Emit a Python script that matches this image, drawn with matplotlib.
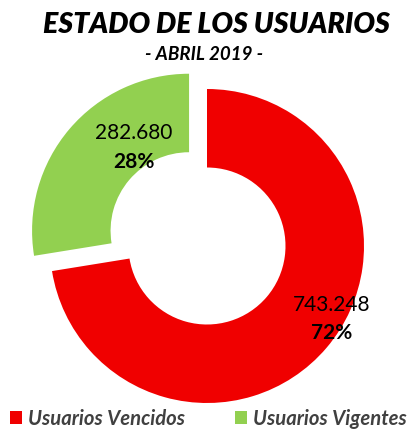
import matplotlib
matplotlib.use("Agg")
import matplotlib.pyplot as plt

plt.rcParams['font.family'] = ['Lato', 'DejaVu Sans']

labels = ['Usuarios Vencidos', 'Usuarios Vigentes']
values = [743248, 282680]
value_text = ['743.248', '282.680']
colors = ['#F00000', '#92D050']

W, H = 410, 430
cx, cy, R = 207, 246, 157

fig = plt.figure(figsize=(W / 100, H / 100), dpi=100)
ax = fig.add_axes([0, 0, 1, 1])
ax.axis('off')

wedges, _ = ax.pie(values, colors=colors, startangle=90, counterclock=False,
                   explode=(0, 0.15), radius=1,
                   wedgeprops=dict(width=0.5, linewidth=0))
ax.set_xlim(-cx / R, (W - cx) / R)
ax.set_ylim(-(H - cy) / R, cy / R)
ax.set_aspect('auto')

total = sum(values)
# label positions in pixel coordinates of the picture
lab_pos = [(332, 305, 333), (134, 133, 162)]
for v, t, (px, py1, py2) in zip(values, value_text, lab_pos):
    pct = round(v / total * 100)
    ax.text((px - cx) / R, (cy - py1) / R, t, ha='center', va='center',
            fontsize=15, color='black')
    ax.text((px - cx) / R, (cy - py2) / R, f'{pct}%', ha='center', va='center',
            fontsize=15, fontweight='bold', color='black')

fig.text(216 / W, 1 - 25 / H, 'ESTADO DE LOS USUARIOS', ha='center', va='center',
         fontsize=20.5, fontweight='heavy', fontstyle='italic', color='black')
fig.text(204 / W, 1 - 55 / H, '- ABRIL 2019 -', ha='center', va='center',
         fontsize=13.5, fontweight='bold', fontstyle='italic', color='black')

leg = fig.legend(wedges, labels, loc='center left', bbox_to_anchor=(10 / W, 1 - 419 / H),
                 ncol=2, frameon=False, handlelength=0.6, handleheight=0.6,
                 handletextpad=0.3, columnspacing=2.45, borderaxespad=0,
                 borderpad=0,
                 prop=dict(size=14.6, style='italic', weight='bold'))
for t in leg.get_texts():
    t.set_color('#404040')

fig.savefig('out.png', dpi=100)
